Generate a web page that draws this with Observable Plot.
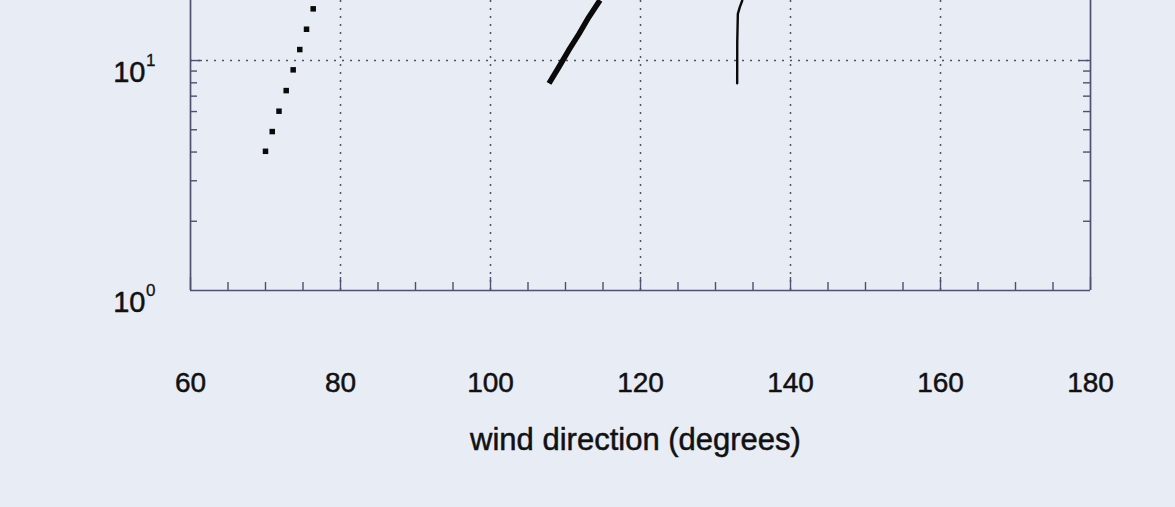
<!DOCTYPE html>
<html><head><meta charset="utf-8">
<script src="https://cdn.jsdelivr.net/npm/d3@7"></script>
<script src="https://cdn.jsdelivr.net/npm/@observablehq/plot@0.6"></script>
<style>html,body{margin:0;padding:0;background:#e8ecf4;overflow:hidden;}</style>
</head><body>
<div id="chart"></div>
<script>
// Axis definitions
const xDomain = [60, 180];
const yDomain = [1, 18.24];
const xTicks = [60, 80, 100, 120, 140, 160, 180];
const xGrid = [80, 100, 120, 140, 160];
const xMinor = [65, 70, 75, 85, 90, 95, 105, 110, 115, 125, 130, 135, 145, 150, 155, 165, 170, 175];
const yMajor = [1, 10];
const yGrid = [10];
const yMinor = [2, 3, 4, 5, 6, 7, 8, 9];
const xLabel = "wind direction (degrees)";

// Series 1: square markers
const dotDir = [70.0, 70.9, 71.8, 72.76, 73.69, 74.57, 75.47, 76.36];
const dotVal = [4.03, 4.91, 6.02, 7.40, 9.11, 11.16, 13.68, 16.78];

// Series 2: thick solid line
const thickDir = [107.8, 109.1, 110.4, 111.8, 113.1, 114.6];
const thickVal = [7.95, 9.35, 11.05, 13.06, 15.43, 18.3];

// Series 3: thin solid line
const thinDir = [132.89, 132.9, 132.98, 133.24, 133.56];
const thinVal = [7.97, 12.0, 15.95, 17.06, 18.2];

const dots = dotDir.map((d, i) => ({dir: d, val: dotVal[i]}));
const thick = thickDir.map((d, i) => ({dir: d, val: thickVal[i]}));
const thin = thinDir.map((d, i) => ({dir: d, val: thinVal[i]}));

const ink = "#4c5270";
const gridInk = "#4e535e";
const W = 1175, H = 507, ML = 190, MR = 85, MT = 0, MB = 217;
const innerW = W - ML - MR, innerH = H - MT - MB;

const chart = Plot.plot({
  width: W, height: H,
  marginLeft: ML, marginRight: MR, marginTop: MT, marginBottom: MB,
  style: {background: "#e8ecf4", fontFamily: "'Liberation Sans', Arial, sans-serif", color: "#111"},
  x: {domain: xDomain},
  y: {type: "log", domain: yDomain},
  marks: [
    Plot.ruleX(xGrid, {x: d => d, stroke: gridInk, strokeWidth: 1.5, strokeDasharray: "2,6"}),
    Plot.ruleY(yGrid, {y: d => d, stroke: gridInk, strokeWidth: 1.5, strokeDasharray: "2,6"}),
    Plot.ruleX(xDomain, {x: d => d, stroke: ink, strokeWidth: 1.7}),
    Plot.ruleY([yDomain[0]], {y: d => d, stroke: ink, strokeWidth: 1.7}),
    Plot.tickX(xMinor, {x: d => d, stroke: ink, strokeWidth: 1.4, insetTop: innerH - 8}),
    Plot.tickX(xTicks, {x: d => d, stroke: ink, strokeWidth: 1.4, insetTop: innerH - 13}),
    Plot.tickY(yMinor, {y: d => d, stroke: ink, strokeWidth: 1.4, insetRight: innerW - 7}),
    Plot.tickY(yMinor, {y: d => d, stroke: ink, strokeWidth: 1.4, insetLeft: innerW - 7}),
    Plot.tickY(yGrid, {y: d => d, stroke: ink, strokeWidth: 1.4, insetRight: innerW - 12}),
    Plot.tickY(yGrid, {y: d => d, stroke: ink, strokeWidth: 1.4, insetLeft: innerW - 12}),
    Plot.axisX({ticks: xTicks, tickSize: 0, tickPadding: 82, fontSize: 28, label: null, tickFormat: d => String(d), textStroke: "#111", textStrokeWidth: 0.5}),
    Plot.axisY(yMajor, {tickSize: 0, tickPadding: 45, fontSize: 29, dy: 12, label: null, tickFormat: () => "10", textStroke: "#111", textStrokeWidth: 0.5}),
    Plot.axisY(yMajor, {tickSize: 0, tickPadding: 35, fontSize: 17, dy: 0, label: null, tickFormat: d => String(Math.round(Math.log10(d))), textStroke: "#111", textStrokeWidth: 0.3}),
    Plot.text([xLabel], {frameAnchor: "bottom", dy: 159, dx: -5, fontSize: 31, text: d => d, fill: "#111", stroke: "#111", strokeWidth: 0.5}),
    Plot.line(thick, {x: "dir", y: "val", stroke: "#0a0a0a", strokeWidth: 5.5, strokeLinecap: "butt", clip: true}),
    Plot.line(thin, {x: "dir", y: "val", stroke: "#0a0a0a", strokeWidth: 2.4, clip: true}),
    Plot.dot(dots, {x: "dir", y: "val", symbol: "square", fill: "#0a0a0a", r: 3.1})
  ]
});
document.getElementById("chart").appendChild(chart);
</script>
</body></html>
